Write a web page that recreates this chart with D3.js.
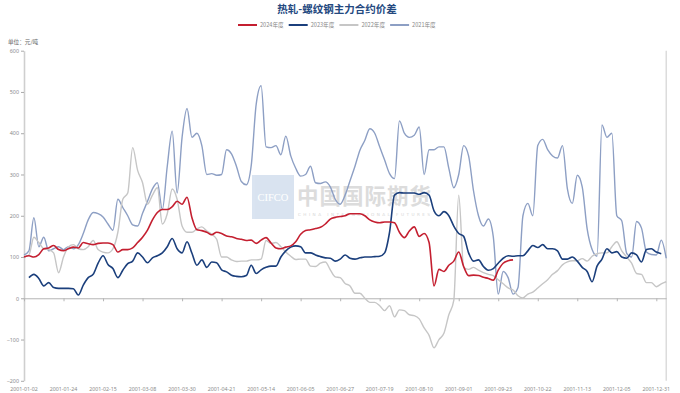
<!DOCTYPE html>
<html><head><meta charset="utf-8">
<script src="https://cdn.jsdelivr.net/npm/d3@7/dist/d3.min.js"></script>
<style>
body{margin:0;background:#fff}
svg{display:block;font-family:"Noto Sans CJK SC","Noto Sans",sans-serif}
</style>
</head><body>
<svg id="chart" width="680" height="393"></svg>
<script>
// ---- data ----
const title = "热轧-螺纹钢主力合约价差";
const unitLabel = "单位：元/吨";
const seriesNames = ["2024年度", "2023年度", "2022年度", "2021年度"];
const tickLabels = ["2001-01-02","2001-01-24","2001-02-15","2001-03-08","2001-03-30","2001-04-21","2001-05-14","2001-06-05","2001-06-27","2001-07-19","2001-08-10","2001-09-01","2001-09-23","2001-10-22","2001-11-13","2001-12-05","2001-12-31"];
const tickIndex = [0,16,32,48,64,80,96,112,128,144,160,176,192,208,224,240,256,260];
const yTicks = [-200,-100,0,100,200,300,400,500,600];
const dayCount = 261;      // trading days on the category axis
const sampleStep = 2;      // one value every 2 trading days

const s2024 = [100,103,100,106,120,122,128,118,115,120,
 124,122,135,132,130,133,134,134,130,112,
 118,118,122,135,148,165,190,208,215,215,
 222,235,228,245,195,166,164,160,154,160,
 157,151,149,145,143,140,141,133,141,147,
 134,122,120,124,127,137,155,164,166,169,
 172,180,192,196,198,200,205,205,205,200,
 190,185,183,185,185,183,160,147,163,173,
 150,157,135,30,70,65,80,90,112,77,
 55,56,55,51,48,44,68,85,91,93,
 null,null,null,null,null,null,null,null,null,null,
 null,null,null,null,null,null,null,null,null,null,
 null,null,null,null,null,null,null,null,null,null,null];

const s2023 = [null,50,58,48,30,38,26,24,24,24,
 23,8,32,50,58,85,103,82,72,50,
 68,84,90,110,100,86,98,103,110,125,
 145,120,110,137,109,80,93,75,88,86,
 69,64,56,53,52,55,80,60,69,75,
 78,78,100,115,124,127,125,110,110,105,
 101,98,97,90,95,105,97,95,98,100,
 100,101,102,110,160,250,256,255,255,255,
 252,256,250,212,200,210,200,175,157,150,
 110,90,93,77,68,72,85,97,103,102,
 103,103,115,128,123,130,120,120,115,95,
 95,100,90,75,65,40,78,95,120,110,
 113,100,97,110,105,88,118,120,112,108,null];

const s2022 = [100,105,148,135,120,118,110,62,100,125,
 130,120,118,125,140,118,112,110,120,160,
 240,255,365,310,280,228,250,268,180,205,
 265,240,175,160,160,168,173,163,155,143,
 100,100,93,89,90,90,93,93,95,140,
 133,135,125,112,102,94,95,95,78,77,
 85,88,69,52,50,36,30,12,12,0,
 -10,-10,-18,-30,-18,-45,-28,-30,-40,-42,
 -50,-72,-90,-120,-100,-85,-40,-5,250,75,
 70,75,68,62,58,55,45,35,25,20,
 6,1,10,15,25,35,45,58,67,81,
 88,91,91,96,90,102,108,110,110,125,
 137,115,100,85,60,58,38,38,28,35,40];

const s2021 = [105,115,195,125,148,115,120,125,118,125,
 120,130,157,190,208,205,197,180,165,240,
 220,200,178,175,206,235,265,280,215,320,
 405,255,390,460,390,400,370,300,302,298,
 300,360,350,320,283,275,322,470,515,367,
 365,370,348,393,345,315,296,300,320,280,
 278,282,270,240,228,250,285,320,359,383,
 411,400,367,335,302,290,430,400,390,395,
 415,300,360,360,367,367,315,268,300,370,
 345,260,200,175,192,149,10,65,50,10,
 26,200,230,200,370,385,360,345,340,370,
 265,230,298,270,168,118,102,420,390,400,
 200,188,109,100,186,170,112,106,105,141,97];

const seriesData = [s2024, s2023, s2022, s2021];
const seriesColors = ["#c41f30", "#1b3f7c", "#c6c6c6", "#8d9fc4"];

// ---- layout ----
const svg = d3.select("#chart");
const x = d3.scaleLinear().domain([0, dayCount - 1]).range([24, 666.2]);
const y = d3.scaleLinear().domain([-200, 600]).range([380.8, 50.7]);

// title
svg.append("text").attr("x", 337).attr("y", 13).attr("text-anchor", "middle")
  .attr("font-size", 10.5).attr("font-weight", "bold").attr("fill", "#24497f").text(title);

// legend
const leg = svg.append("g");
seriesNames.forEach((n, k) => {
  const lx = 238 + k * 50.7;
  leg.append("line").attr("x1", lx).attr("x2", lx + 19).attr("y1", 25).attr("y2", 25)
    .attr("stroke", seriesColors[k]).attr("stroke-width", 2);
  leg.append("text").attr("x", lx + 22).attr("y", 27).attr("font-size", 5.6)
    .attr("fill", "#888").text(n);
});

// unit
svg.append("text").attr("x", 8).attr("y", 44).attr("font-size", 5.6).attr("fill", "#666").text(unitLabel);

// watermark
const wm = svg.append("g").attr("opacity", 0.85);
wm.append("rect").attr("x", 252).attr("y", 175).attr("width", 42).attr("height", 44).attr("fill", "#d3dfee");
wm.append("text").attr("x", 273).attr("y", 201).attr("text-anchor", "middle").attr("font-size", 10.5)
  .attr("font-family", "'Liberation Serif','DejaVu Serif',serif").attr("fill", "#ffffff").text("CIFCO");
wm.append("text").attr("x", 297).attr("y", 204).attr("font-size", 21.5).attr("font-weight", "bold")
  .attr("fill", "#d6d6d6").attr("textLength", 134).text("中国国际期货");
wm.append("text").attr("x", 298).attr("y", 215.5).attr("font-size", 4.2).attr("fill", "#d0d0d0")
  .attr("textLength", 132).attr("font-family", "'DejaVu Sans',sans-serif").text("CHINA INTERNATIONAL FUTURES");

// left axis
const yAxis = svg.append("g").attr("transform", "translate(24,0)")
  .call(d3.axisLeft(y).tickValues(yTicks).tickSize(3).tickPadding(2).tickSizeOuter(0));
yAxis.select(".domain").attr("stroke", "#cfcfcf").attr("stroke-width", 1.6);
yAxis.selectAll(".tick line").attr("stroke", "#aaa");
yAxis.selectAll(".tick text").attr("font-size", 5.4).attr("fill", "#8a8a8a")
  .attr("font-family", "'Noto Sans',sans-serif");

// right border line
svg.append("line").attr("x1", x(dayCount - 1)).attr("x2", x(dayCount - 1)).attr("y1", y(600)).attr("y2", y(-200))
  .attr("stroke", "#d3d3d3").attr("stroke-width", 1.2);

// zero axis with ticks
const xAxis = svg.append("g").attr("transform", `translate(0,${y(0)})`)
  .call(d3.axisBottom(x).tickValues(tickIndex.slice(0, -1)).tickSize(3).tickFormat("").tickSizeOuter(0));
xAxis.select(".domain").attr("stroke", "#b5b5b5");
xAxis.selectAll(".tick line").attr("stroke", "#b5b5b5");

// date labels along bottom
svg.append("g").selectAll("text").data(tickLabels).join("text")
  .attr("x", (d, k) => x(tickIndex[k])).attr("y", 390.5).attr("text-anchor", "middle")
  .attr("font-size", 5.3).attr("fill", "#8a8a8a").attr("font-family", "'Noto Sans',sans-serif")
  .text(d => d);

// lines
const line = d3.line()
  .defined(d => d.v !== null)
  .x(d => x(d.i)).y(d => y(d.v))
  .curve(d3.curveMonotoneX);

const order = [3, 2, 1, 0];
order.forEach(k => {
  const pts = seriesData[k].map((v, j) => ({ i: j * sampleStep, v }));
  svg.append("path").datum(pts).attr("d", line).attr("fill", "none")
    .attr("stroke", seriesColors[k]).attr("stroke-width", k < 2 ? 1.6 : 1.4)
    .attr("stroke-linejoin", "round");
});
</script>
</body></html>
